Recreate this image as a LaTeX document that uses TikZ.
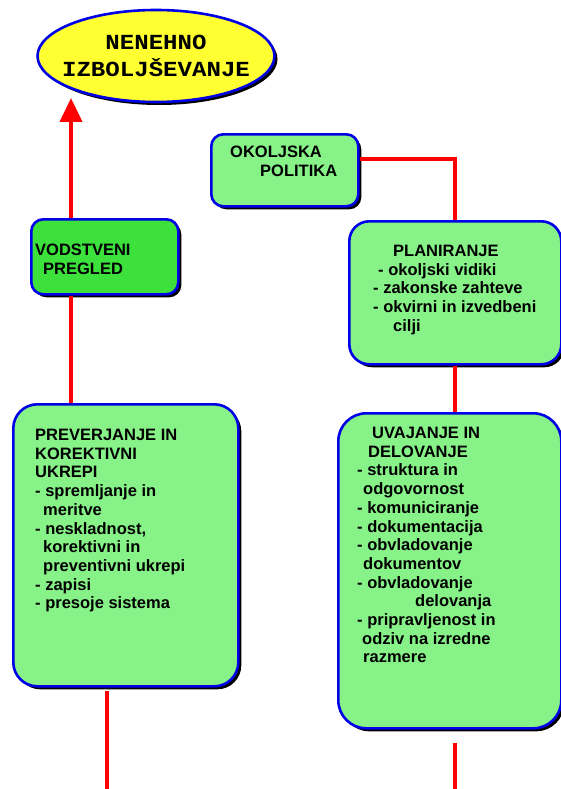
\documentclass[tikz,border=0pt]{standalone}
\usepackage{fontspec}
\setmainfont{Liberation Sans}
\newfontfamily\goalfont[FakeStretch=1.12]{Liberation Mono}
\usepackage{xcolor}
\usepackage{tikz}
\usetikzlibrary{shapes.geometric, shadows, arrows.meta}

\definecolor{frame}{RGB}{0,0,230}
\definecolor{lightgreen}{RGB}{135,242,135}
\definecolor{darkgreen}{RGB}{60,225,60}
\definecolor{goalyellow}{RGB}{255,255,50}

\begin{document}
\begin{tikzpicture}[x=1pt, y=-1pt]

  \tikzstyle{module}=[draw=frame, line width=2.6pt, general shadow={fill=black, shadow xshift=3pt, shadow yshift=-3pt}]
  \tikzstyle{box}=[module, rounded corners=12pt, fill=lightgreen, anchor=north west, inner sep=0pt]
  \tikzstyle{bigbox}=[box, rounded corners=24pt]
  \tikzstyle{goal}=[module, ellipse, fill=goalyellow, align=center, inner xsep=-14pt, inner ysep=0pt,
    font=\goalfont\fontsize{21.5}{27}\selectfont\bfseries]
  \tikzstyle{boxtext}=[anchor=north west, inner sep=0pt, align=left,
    font=\fontsize{16.5}{18.7}\selectfont\bfseries]
  \tikzstyle{link}=[draw=red, line width=4pt]

  \useasboundingbox (0,0) rectangle (561,789);

  \node [goal, minimum width=237pt, minimum height=92pt] (goal) at (156,56) {NENEHNO\\IZBOLJŠEVANJE};

  \node [box, minimum width=147pt, minimum height=72pt] (politika) at (210,133) {};
  \node [boxtext] (politika-text) at (230,146) {OKOLJSKA\\\hspace*{30pt}POLITIKA};

  \node [box, fill=darkgreen, minimum width=147pt, minimum height=75pt] (pregled) at (30,218) {};
  \node [boxtext] (pregled-text) at (35,244) {VODSTVENI\\\hspace*{8pt}PREGLED};

  \node [bigbox, rounded corners=20pt, minimum width=212pt, minimum height=143pt] (planiranje) at (348,220) {};
  \node [boxtext] (planiranje-text) at (373,245) {
    \hspace*{20pt}PLANIRANJE\\
    \hspace*{5pt}- okoljski vidiki\\
    - zakonske zahteve\\
    - okvirni in izvedbeni\\
    \hspace*{20pt}cilji
  };

  \node [bigbox, minimum width=225pt, minimum height=282pt] (preverjanje) at (12,403) {};
  \node [boxtext] (preverjanje-text) at (35,429) {
    PREVERJANJE IN\\
    KOREKTIVNI\\
    UKREPI\\
    - spremljanje in\\
    \hspace*{8pt}meritve\\
    - neskladnost,\\
    \hspace*{8pt}korektivni in\\
    \hspace*{8pt}preventivni ukrepi\\
    - zapisi\\
    - presoje sistema
  };

  \node [bigbox, rounded corners=28pt, minimum width=223pt, minimum height=315pt] (uvajanje) at (337,412) {};
  \node [boxtext] (uvajanje-text) at (357,427) {
    \hspace*{15pt}UVAJANJE IN\\
    \hspace*{11pt}DELOVANJE\\
    - struktura in\\
    \hspace*{6pt}odgovornost\\
    - komuniciranje\\
    - dokumentacija\\
    - obvladovanje\\
    \hspace*{6pt}dokumentov\\
    - obvladovanje\\
    \hspace*{58pt}delovanja\\
    - pripravljenost in\\
    \hspace*{5pt}odziv na izredne\\
    \hspace*{6pt}razmere
  };

  \coordinate (tip) at (71,98);
  \coordinate (left-end) at (107,789);
  \coordinate (right-end) at (455,789);

  \draw [link, -{Triangle[width=22pt, length=24pt]}] (pregled.north -| tip) -- (tip);
  \draw [link] (pregled.south -| tip) -- (preverjanje.north -| tip);
  \draw [link] ([yshift=-3pt]preverjanje.south -| left-end) -- (left-end);

  \draw [link] ([yshift=11pt]politika.east) -| (planiranje.north);
  \draw [link] (planiranje.south) -- (planiranje.south |- uvajanje.north);
  \draw [link] ([yshift=-13pt]uvajanje.south -| right-end) -- (right-end);

\end{tikzpicture}
\end{document}
